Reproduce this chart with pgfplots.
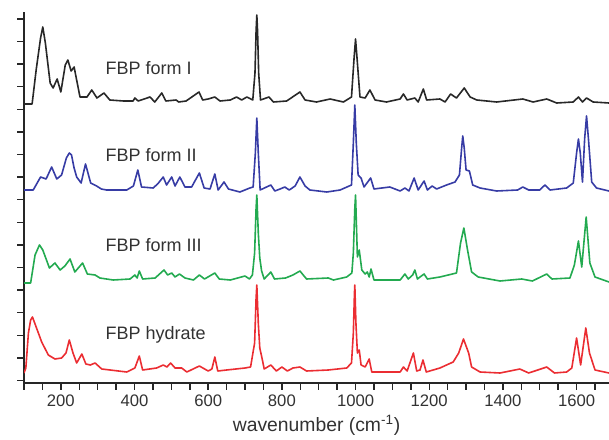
\documentclass[border=0pt]{standalone}
\usepackage{pgfplots}
\pgfplotsset{compat=1.18}
\usepackage{fontspec}
\setmainfont{Liberation Sans}
\definecolor{formI}{RGB}{40,40,40}
\definecolor{formII}{RGB}{55,60,165}
\definecolor{formIII}{RGB}{35,170,80}
\definecolor{hydrate}{RGB}{235,45,50}
\definecolor{txt}{RGB}{50,50,50}
\begin{document}
\begin{tikzpicture}
\path[use as bounding box] (0,0) rectangle (456.75pt,329.25pt);
\begin{axis}[
  at={(18pt,42pt)}, anchor=south west,
  scale only axis, width=438.75pt, height=278.25pt,
  xmin=100, xmax=1688, ymin=0, ymax=371,
  axis x line=bottom, axis y line=left,
  axis line style={-, line width=1.1pt, draw=black!85},
  every outer x axis line/.append style={-},
  every outer y axis line/.append style={-},
  tick align=outside,
  xtick={200,400,...,1600},
  minor xtick={100,150,...,1650},
  ytick={2.5,25.1,...,366},
  yticklabels={},
  major tick length=5pt, minor tick length=5pt,
  every tick/.style={black!85, line width=1.1pt},
  every minor tick/.style={black!85, line width=1.1pt},
  xticklabel style={font=\fontsize{12.5}{14}\selectfont, text=txt},
  /pgf/number format/assume math mode=true,
  /pgf/number format/1000 sep={},
  xlabel={wavenumber (cm\textsuperscript{-1})},
  xlabel style={font=\fontsize{14.5}{16}\selectfont, text=txt},
  every axis plot/.append style={line width=1.2pt, line join=round},
]
% FBP form I
\addplot[formI] coordinates {(100,279) (122,279) (133,313) (145,345) (151,356) (158,340) (171,300) (179,295) (190,304) (200,291) (212,318) (219,323) (228,312) (236,316) (252,286) (271,286) (284,293) (298,285) (317,290) (333,283) (370,282) (396,282) (401,285) (410,282) (442,286) (455,281) (474,290) (485,282) (513,283) (520,281) (540,282) (575,291) (585,283) (600,284) (618,286) (632,282) (660,283) (677,286) (691,283) (705,286) (721,283) (727,310) (730,352) (732,368) (734,352) (737,310) (742,283) (765,286) (777,281) (813,282) (849,291) (863,283) (894,281) (931,284) (967,281) (989,286) (996,325) (1000,344) (1004,325) (1012,286) (1026,285) (1039,293) (1053,283) (1084,281) (1121,284) (1130,289) (1140,283) (1161,285) (1170,281) (1184,294) (1193,283) (1229,284) (1243,281) (1258,289) (1274,285) (1295,295) (1311,286) (1329,283) (1383,281) (1454,284) (1482,281) (1519,284) (1546,280) (1591,281) (1605,286) (1616,281) (1627,285) (1645,281) (1688,280)};
% FBP form II
\addplot[formII] coordinates {(100,193) (125,193) (145,206) (160,204) (175,216) (189,204) (202,208) (215,225) (223,230) (229,228) (236,215) (243,206) (255,200) (267,219) (281,200) (297,197) (310,194) (324,193) (379,193) (397,197) (409,213) (419,196) (451,195) (465,200) (478,206) (487,198) (501,206) (510,197) (523,206) (537,196) (555,196) (576,210) (589,195) (605,194) (618,209) (627,193) (643,201) (655,194) (686,191) (713,195) (722,196) (728,230) (732,265) (736,230) (741,193) (770,198) (781,192) (795,194) (808,196) (820,193) (836,197) (849,206) (863,197) (876,193) (922,191) (958,193) (989,198) (994,240) (998,278) (1002,240) (1007,208) (1015,205) (1023,196) (1041,205) (1050,194) (1093,196) (1121,192) (1134,195) (1145,192) (1159,205) (1170,193) (1186,202) (1195,193) (1208,197) (1220,194) (1247,198) (1270,201) (1282,208) (1288,235) (1291,247) (1295,235) (1300,213) (1309,212) (1318,198) (1338,195) (1383,192) (1440,193) (1454,196) (1470,193) (1500,193) (1514,198) (1528,193) (1573,195) (1591,200) (1600,230) (1605,244) (1610,230) (1616,201) (1622,245) (1627,267) (1632,245) (1641,201) (1654,195) (1688,192)};
% FBP form III
\addplot[formIII] coordinates {(100,100) (118,100) (130,128) (142,138) (151,133) (169,115) (184,120) (198,113) (211,117) (225,124) (238,111) (259,120) (272,109) (293,108) (306,105) (342,103) (388,104) (401,108) (407,105) (413,112) (422,104) (456,105) (480,113) (490,108) (501,110) (510,106) (522,109) (537,105) (560,103) (576,108) (590,104) (618,110) (630,104) (660,103) (700,107) (712,104) (720,108) (726,130) (730,175) (732,188) (736,150) (740,125) (745,112) (752,104) (770,111) (780,104) (810,105) (830,108) (849,112) (867,104) (926,105) (940,103) (976,106) (990,110) (994,130) (998,175) (1000,188) (1005,126) (1010,133) (1017,113) (1026,109) (1032,111) (1037,106) (1042,114) (1050,103) (1121,103) (1134,109) (1143,104) (1155,108) (1161,113) (1168,104) (1175,106) (1186,109) (1195,104) (1229,106) (1274,110) (1285,140) (1294,155) (1304,133) (1315,111) (1333,106) (1392,102) (1451,104) (1480,102) (1519,109) (1533,104) (1582,105) (1594,118) (1605,142) (1614,116) (1626,166) (1636,120) (1650,106) (1688,101)};
% FBP hydrate
\addplot[hydrate] coordinates {(100,10) (105,15) (112,50) (118,63) (123,66) (133,56) (148,41) (166,28) (184,24) (202,25) (214,30) (223,43) (233,30) (243,20) (257,29) (268,19) (280,18) (293,20) (311,14) (379,11) (401,15) (413,27) (422,13) (460,15) (478,18) (488,16) (498,20) (510,15) (528,15) (542,11) (576,17) (600,12) (610,14) (618,26) (626,12) (650,13) (700,15) (715,16) (726,40) (730,85) (732,98) (736,60) (740,35) (746,25) (752,14) (770,18) (785,12) (800,16) (815,12) (830,15) (849,16) (867,12) (926,13) (976,15) (989,20) (994,50) (997,90) (998,98) (1001,60) (1005,30) (1010,33) (1015,18) (1026,16) (1037,24) (1044,11) (1121,11) (1130,16) (1140,12) (1157,30) (1166,12) (1175,13) (1183,23) (1192,11) (1229,15) (1265,21) (1280,30) (1293,44) (1307,30) (1315,16) (1338,11) (1392,10) (1446,14) (1470,10) (1519,16) (1540,10) (1573,11) (1587,15) (1600,45) (1611,18) (1625,55) (1635,30) (1650,13) (1688,10)};
\node[anchor=west, text=txt, font=\fontsize{13.5}{15}\selectfont] at (axis cs:309,315) {FBP form I};
\node[anchor=west, text=txt, font=\fontsize{13.5}{15}\selectfont] at (axis cs:309,228) {FBP form II};
\node[anchor=west, text=txt, font=\fontsize{13.5}{15}\selectfont] at (axis cs:309,138) {FBP form III};
\node[anchor=west, text=txt, font=\fontsize{13.5}{15}\selectfont] at (axis cs:309,48) {FBP hydrate};
\end{axis}
\end{tikzpicture}
\end{document}
